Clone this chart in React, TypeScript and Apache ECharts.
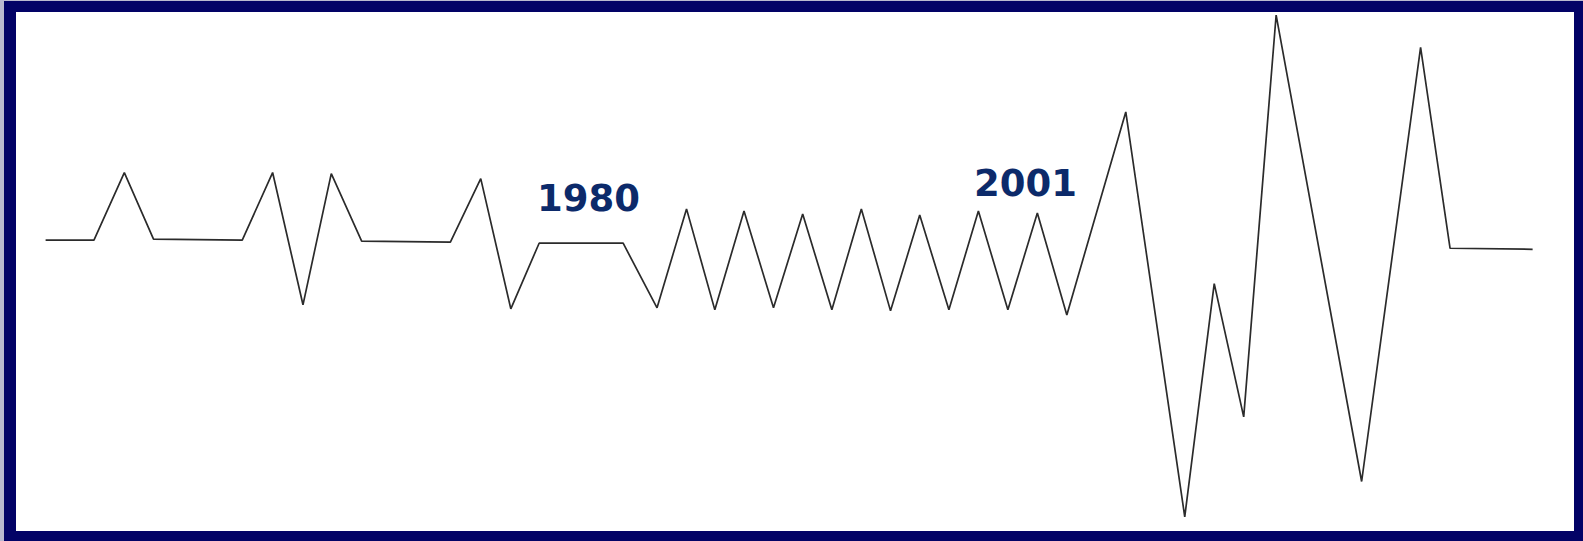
import React, { useEffect, useRef } from "react";
import * as echarts from "echarts";

// x positions in step units, y as signal amplitude
const steps = [
  -1.64, 0, 1.03, 2.02, 5.03, 6.06, 7.09, 8.05, 9.08, 12.09, 13.12, 14.14, 15.1,
  17.95, 19.1, 20.1, 21.06, 22.05, 23.05, 24.04, 25.03, 26.03, 27.02, 28.01, 29,
  30, 31, 32, 33, 35, 37, 38, 39, 40.1, 43, 45, 46, 48.8,
];
const amplitude = [
  2, 2, 69, 3, 2, 69, -62, 68, 1, 0, 63, -66, -1, -1, -65, 33, -67, 31, -65, 28,
  -67, 33, -68, 27, -67, 31, -67, 29, -72, 129, -272, -41, -173, 225, -237, 193,
  -6, -7,
];
const yearLabels = ["1980", "2001"];

export default function App() {
  const ref = useRef<HTMLDivElement>(null);
  useEffect(() => {
    if (!ref.current) return;
    const chart = echarts.init(ref.current, null, { renderer: "svg" });
    const data = steps.map((s, i) => [s, amplitude[i]]);
    chart.setOption({
      animation: false,
      backgroundColor: "#ffffff",
      grid: { left: 35, right: 15, top: 10, bottom: 6 },
      xAxis: { type: "value", min: -2, max: 50, show: false },
      yAxis: { type: "value", min: -290, max: 230, show: false },
      graphic: [
        { type: "rect", z: -10, silent: true, shape: { x: 0, y: 0, width: 1583, height: 541 }, style: { fill: "#b9b9cf" } },
        { type: "rect", z: -9, silent: true, shape: { x: 4, y: 1, width: 1579, height: 540 }, style: { fill: "#020266" } },
        { type: "rect", z: -8, silent: true, shape: { x: 16, y: 12, width: 1558, height: 519 }, style: { fill: "#ffffff" } },
        {
          type: "text", left: 537, top: 180, z: 10,
          style: { text: yearLabels[0], fill: "#0c2a6a", font: "bold 37px 'DejaVu Sans'" },
        },
        {
          type: "text", left: 974, top: 165, z: 10,
          style: { text: yearLabels[1], fill: "#0c2a6a", font: "bold 37px 'DejaVu Sans'" },
        },
      ],
      series: [
        {
          type: "line",
          data,
          symbol: "none",
          lineStyle: { color: "#2b2b2b", width: 1.7 },
          z: 5,
        },
      ],
    });
    return () => chart.dispose();
  }, []);
  return (
    <div
      ref={ref}
      style={{ position: "absolute", left: 0, top: 0, width: 1583, height: 541 }}
    />
  );
}
